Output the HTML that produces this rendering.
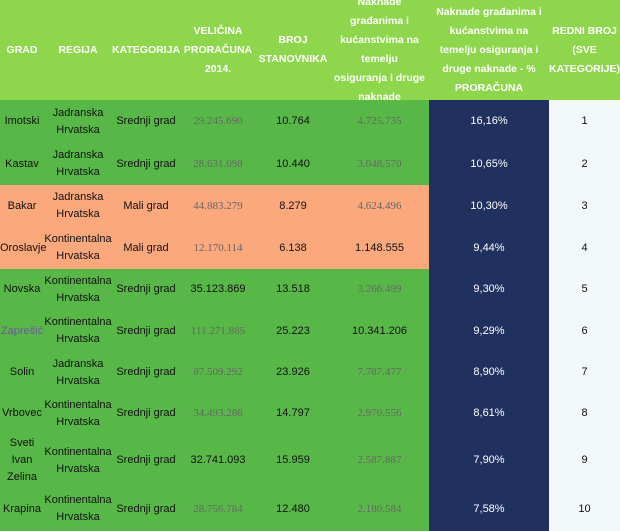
<!DOCTYPE html>
<html><head><meta charset="utf-8"><style>
*{margin:0;padding:0;box-sizing:border-box}
body{width:620px;height:531px;overflow:hidden;background:#58b847;font-family:"Liberation Sans",sans-serif;}
table{border-collapse:collapse;table-layout:fixed;width:620px}
td,th{text-align:center;vertical-align:middle;font-size:11px;line-height:17px;color:#111;padding:0}
th{background:#8ed64b;color:#fff;font-weight:bold;font-size:10.5px;height:100px;line-height:19px;white-space:nowrap}
th div{height:100px;display:flex;align-items:center;justify-content:center;overflow:hidden}
tr.g td{background:#58b847}
tr.o td{background:#fba87c}
td.n{background:#20305f!important;color:#fff}
td.r{background:#f2f7f8!important}
.gr{color:#666;font-family:"Liberation Serif",serif;font-size:11px}
.pl{color:#6a5a9a}
</style></head><body>
<table>
<colgroup><col style="width:44px"><col style="width:68px"><col style="width:68px"><col style="width:76px"><col style="width:74px"><col style="width:99px"><col style="width:120px"><col style="width:71px"></colgroup>
<tr><th><div>GRAD</div></th><th><div>REGIJA</div></th><th><div>KATEGORIJA</div></th><th><div>VELIČINA<br>PRORAČUNA<br>2014.</div></th><th><div>BROJ<br>STANOVNIKA</div></th><th><div>Naknade<br>građanima i<br>kućanstvima na<br>temelju<br>osiguranja i druge<br>naknade</div></th><th><div>Naknade građanima i<br>kućanstvima na<br>temelju osiguranja i<br>druge naknade - %<br>PRORAČUNA</div></th><th><div>REDNI BROJ<br>(SVE<br>KATEGORIJE)</div></th></tr>
<tr class="g" style="height:43px"><td>Imotski</td><td>Jadranska Hrvatska</td><td>Srednji grad</td><td class="gr">29.245.690</td><td>10.764</td><td class="gr">4.725.735</td><td class="n">16,16%</td><td class="r">1</td></tr>
<tr class="g" style="height:42px"><td>Kastav</td><td>Jadranska Hrvatska</td><td>Srednji grad</td><td class="gr">28.631.098</td><td>10.440</td><td class="gr">3.048.570</td><td class="n">10,65%</td><td class="r">2</td></tr>
<tr class="o" style="height:42px"><td>Bakar</td><td>Jadranska Hrvatska</td><td>Mali grad</td><td class="gr">44.883.279</td><td>8.279</td><td class="gr">4.624.496</td><td class="n">10,30%</td><td class="r">3</td></tr>
<tr class="o" style="height:42px"><td>Oroslavje</td><td>Kontinentalna Hrvatska</td><td>Mali grad</td><td class="gr">12.170.114</td><td>6.138</td><td>1.148.555</td><td class="n">9,44%</td><td class="r">4</td></tr>
<tr class="g" style="height:41px"><td>Novska</td><td>Kontinentalna Hrvatska</td><td>Srednji grad</td><td>35.123.869</td><td>13.518</td><td class="gr">3.266.499</td><td class="n">9,30%</td><td class="r">5</td></tr>
<tr class="g" style="height:42px"><td class="pl">Zaprešić</td><td>Kontinentalna Hrvatska</td><td>Srednji grad</td><td class="gr">111.271.885</td><td>25.223</td><td>10.341.206</td><td class="n">9,29%</td><td class="r">6</td></tr>
<tr class="g" style="height:41px"><td>Solin</td><td>Jadranska Hrvatska</td><td>Srednji grad</td><td class="gr">87.509.292</td><td>23.926</td><td class="gr">7.787.477</td><td class="n">8,90%</td><td class="r">7</td></tr>
<tr class="g" style="height:41px"><td>Vrbovec</td><td>Kontinentalna Hrvatska</td><td>Srednji grad</td><td class="gr">34.493.286</td><td>14.797</td><td class="gr">2.970.556</td><td class="n">8,61%</td><td class="r">8</td></tr>
<tr class="g" style="height:53px"><td>Sveti Ivan Zelina</td><td>Kontinentalna Hrvatska</td><td>Srednji grad</td><td>32.741.093</td><td>15.959</td><td class="gr">2.587.887</td><td class="n">7,90%</td><td class="r">9</td></tr>
<tr class="g" style="height:44px"><td>Krapina</td><td>Kontinentalna Hrvatska</td><td>Srednji grad</td><td class="gr">28.756.784</td><td>12.480</td><td class="gr">2.180.584</td><td class="n">7,58%</td><td class="r">10</td></tr>
</table>
</body></html>
